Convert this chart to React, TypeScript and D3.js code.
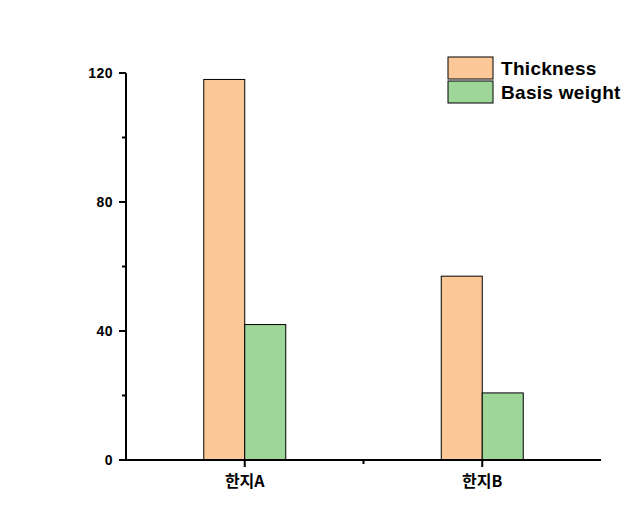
import React, { useEffect, useRef } from 'react';
import * as d3 from 'd3';

const categories = ['한지A', '한지B'];
const seriesNames = ['Thickness', 'Basis weight'];
const thickness = [118, 57];
const basisWeight = [42, 20.8];
const yTicks = [0, 40, 80, 120];
const yMinorTicks = [20, 60, 100];
const colors = ['#FDC897', '#9ED69A'];

export default function App() {
  const svgRef = useRef<SVGSVGElement>(null);

  useEffect(() => {
    if (!svgRef.current) return;
    const svg = d3.select(svgRef.current);
    svg.selectAll('*').remove();

    const left = 126, right = 601, top = 73, bottom = 460;
    const font = 'Arial, "Liberation Sans", sans-serif';

    const x = d3.scaleBand<string>().domain(categories).range([left, right]).padding(0);
    const y = d3.scaleLinear().domain([0, 120]).range([bottom, top]);
    const barW = 41;
    const series = [thickness, basisWeight];

    // bars
    series.forEach((vals, si) => {
      svg.append('g').selectAll('rect').data(vals).join('rect')
        .attr('x', (_, i) => x(categories[i])! + x.bandwidth() / 2 + (si - 1) * barW)
        .attr('y', d => y(d))
        .attr('width', barW)
        .attr('height', d => bottom - y(d))
        .attr('fill', colors[si])
        .attr('stroke', '#000')
        .attr('stroke-width', 1);
    });

    // y axis
    const ya = svg.append('g');
    ya.append('line').attr('x1', left).attr('x2', left).attr('y1', top).attr('y2', bottom + 1)
      .attr('stroke', '#000').attr('stroke-width', 2);
    yTicks.forEach(t => {
      ya.append('line').attr('x1', left - 7).attr('x2', left).attr('y1', y(t)).attr('y2', y(t))
        .attr('stroke', '#000').attr('stroke-width', 2);
      ya.append('text').attr('x', left - 13).attr('y', y(t)).attr('dy', '0.35em')
        .attr('text-anchor', 'end').attr('font-family', font).attr('font-weight', 'bold')
        .attr('font-size', 14).attr('letter-spacing', 0.5).text(t);
    });
    yMinorTicks.forEach(t => {
      ya.append('line').attr('x1', left - 4).attr('x2', left).attr('y1', y(t)).attr('y2', y(t))
        .attr('stroke', '#000').attr('stroke-width', 2);
    });

    // x axis
    const xa = svg.append('g');
    xa.append('line').attr('x1', left - 7).attr('x2', right).attr('y1', bottom).attr('y2', bottom)
      .attr('stroke', '#000').attr('stroke-width', 2);
    categories.forEach(c => {
      const cx = x(c)! + x.bandwidth() / 2;
      xa.append('line').attr('x1', cx).attr('x2', cx).attr('y1', bottom).attr('y2', bottom + 7)
        .attr('stroke', '#000').attr('stroke-width', 2);
      xa.append('text').attr('x', cx).attr('y', 487).attr('text-anchor', 'middle')
        .attr('font-family', '"Noto Sans CJK KR", Arial, sans-serif').attr('font-weight', 'bold')
        .attr('font-size', 16).text(c);
    });
    const mid = (left + right) / 2;
    xa.append('line').attr('x1', mid).attr('x2', mid).attr('y1', bottom).attr('y2', bottom + 4)
      .attr('stroke', '#000').attr('stroke-width', 2);

    // legend
    const lg = svg.append('g');
    seriesNames.forEach((name, i) => {
      const ly = 57 + i * 24;
      lg.append('rect').attr('x', 448).attr('y', ly).attr('width', 45).attr('height', 22)
        .attr('fill', colors[i]).attr('stroke', '#000').attr('stroke-width', 1);
      lg.append('text').attr('x', 501).attr('y', ly + 11).attr('dy', '0.35em')
        .attr('font-family', font).attr('font-weight', 'bold').attr('font-size', 19)
        .attr('letter-spacing', 0.3).text(name);
    });
  }, []);

  return (
    <svg ref={svgRef} width={643} height={511}
      style={{ position: 'absolute', left: 0, top: 0, background: '#fff' }} />
  );
}
